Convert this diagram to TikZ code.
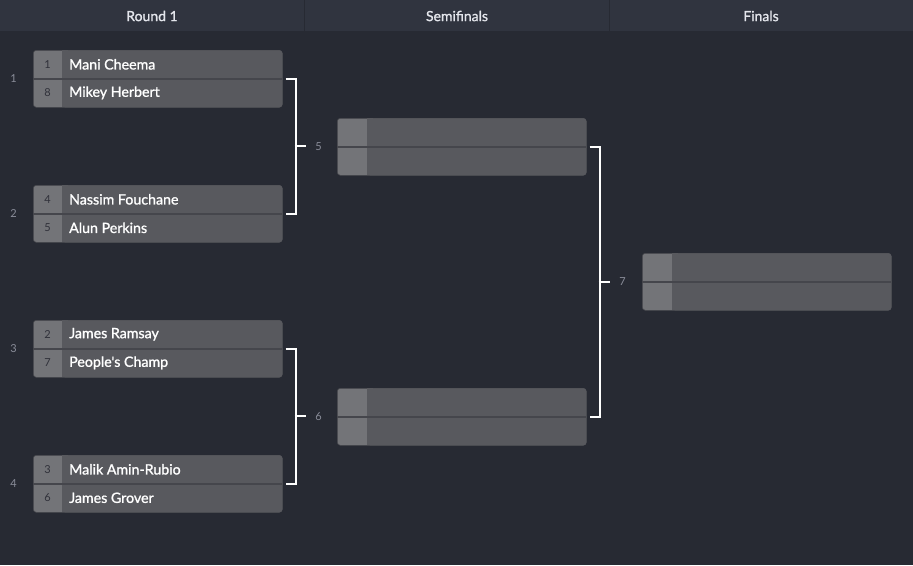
\documentclass[tikz,border=0pt]{standalone}
\usepackage{fontspec}
\setmainfont{Lato}
\newfontfamily\semibold[FakeBold=1.2]{Lato}
\usetikzlibrary{positioning,calc}

\definecolor{bgcol}{HTML}{272A33}
\definecolor{headcol}{HTML}{30343F}
\definecolor{boxcol}{HTML}{58595E}
\definecolor{seedcol}{HTML}{737478}
\definecolor{divcol}{HTML}{45464C}
\definecolor{seedtext}{HTML}{30313A}
\definecolor{numcol}{HTML}{8A8D99}
\definecolor{headtext}{HTML}{E4E6EC}

\tikzset{
  match/.style={rectangle,rounded corners=3pt,fill=seedcol,draw=divcol,line width=0.6pt,
    minimum width=249pt,minimum height=57pt,inner sep=0pt},
  player/.style={anchor=west,text=white,font=\semibold\fontsize{14.2}{16}\selectfont,inner sep=0pt},
  seed/.style={text=seedtext,font=\fontsize{11}{13}\selectfont,inner sep=0pt},
  matchnum/.style={text=numcol,font=\fontsize{11}{13}\selectfont,inner sep=0pt},
  header/.style={text=headtext,font=\semibold\fontsize{14}{16}\selectfont,inner sep=0pt},
  bracket/.style={draw=white,line width=2pt}
}

\begin{document}
\begin{tikzpicture}[x=1pt,y=-1pt]
  \useasboundingbox (0,0) rectangle (913,565);
  \fill[bgcol] (0,0) rectangle (913,565);
  % header bar
  \fill[headcol] (0,0) rectangle (913,31);
  \draw[bgcol,line width=1.5pt] (304.5,0) -- (304.5,31);
  \draw[bgcol,line width=1.5pt] (609.5,0) -- (609.5,31);
  \node[header] (h1) at (152,16) {Round 1};
  \node[header] (h2) at (457,16) {Semifinals};
  \node[header] (h3) at (761,16) {Finals};
  % empty match boxes
  \foreach \n/\x/\y in {s5/337/118,s6/337/388,f7/642/253} {
    \node[match,anchor=north west] (\n) at (\x,\y) {};
    \fill[boxcol,rounded corners=3pt] ([xshift=30pt,yshift=-0.3pt]\n.north west) rectangle ([xshift=-0.3pt,yshift=0.3pt]\n.south east);
    \fill[boxcol] ([xshift=30pt,yshift=-0.3pt]\n.north west) rectangle ([xshift=36pt,yshift=0.3pt]\n.south west);
    \draw[divcol,line width=1.5pt] ([xshift=0.3pt]\n.west) -- ([xshift=-0.3pt]\n.east);
  }
  % first round
  \foreach \i/\y/\sa/\na/\sb/\nb in {
      1/50/1/Mani Cheema/8/Mikey Herbert,
      2/185/4/Nassim Fouchane/5/Alun Perkins,
      3/320/2/James Ramsay/7/People's Champ,
      4/455/3/Malik Amin-Rubio/6/James Grover} {
    \node[match,anchor=north west] (m\i) at (33,\y) {};
    \fill[boxcol,rounded corners=3pt] ([xshift=29pt,yshift=-0.3pt]m\i.north west) rectangle ([xshift=-0.3pt,yshift=0.3pt]m\i.south east);
    \fill[boxcol] ([xshift=29pt,yshift=-0.3pt]m\i.north west) rectangle ([xshift=35pt,yshift=0.3pt]m\i.south west);
    \draw[divcol,line width=1.5pt] ([xshift=0.3pt]m\i.west) -- ([xshift=-0.3pt]m\i.east);
    \node[seed] (m\i sa) at ([xshift=14.5pt,yshift=14.5pt]m\i.west) {\sa};
    \node[seed] (m\i sb) at ([xshift=14.5pt,yshift=-14pt]m\i.west) {\sb};
    \node[player] (m\i na) at ([xshift=36pt,yshift=14.5pt]m\i.west) {\na};
    \node[player] (m\i nb) at ([xshift=36pt,yshift=-14pt]m\i.west) {\nb};
    \node[matchnum] (l\i) at ([xshift=-19.5pt]m\i.west) {\i};
  }
  % brackets
  \draw[bracket] ([xshift=3pt]m1.east) -- ++(10,0) |- ([xshift=3pt]m2.east);
  \draw[bracket] ([xshift=3pt]m3.east) -- ++(10,0) |- ([xshift=3pt]m4.east);
  \draw[bracket] ([xshift=3pt]s5.east) -- ++(10,0) |- ([xshift=3pt]s6.east);
  \coordinate (c5) at ($([xshift=13pt]m1.east)!0.5!([xshift=13pt]m2.east)$);
  \coordinate (c6) at ($([xshift=13pt]m3.east)!0.5!([xshift=13pt]m4.east)$);
  \coordinate (c7) at ($([xshift=13pt]s5.east)!0.5!([xshift=13pt]s6.east)$);
  \foreach \k in {5,6,7} {
    \draw[bracket] ([xshift=-1pt]c\k) -- ++(11,0);
    \node[matchnum] (l\k) at ([xshift=23pt]c\k) {\k};
  }
\end{tikzpicture}
\end{document}
